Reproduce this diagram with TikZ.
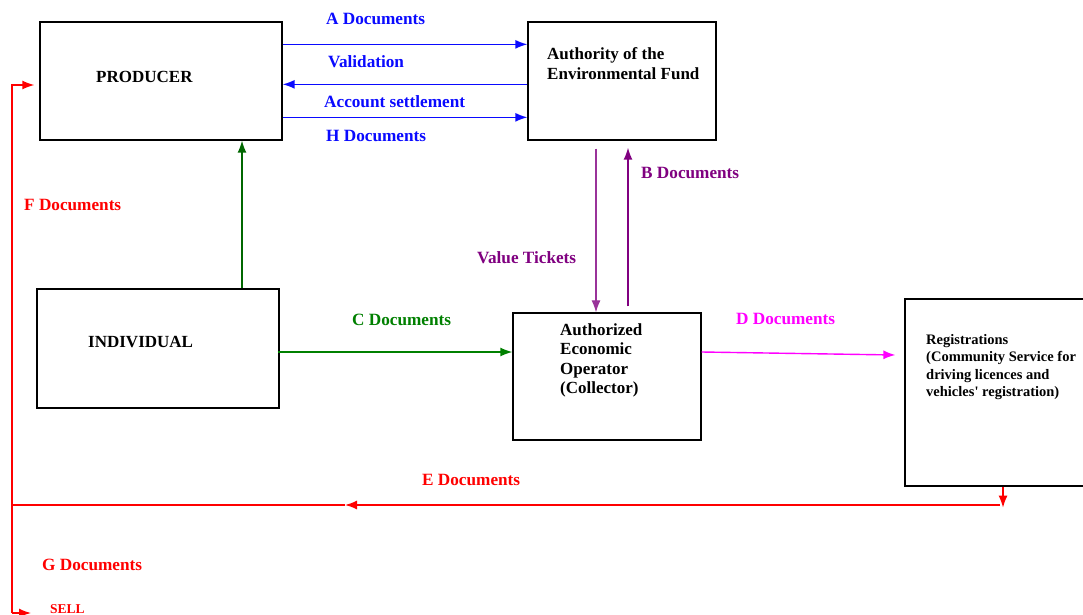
\documentclass[tikz,border=0pt]{standalone}
\usepackage{fontspec}
\setmainfont{Liberation Serif}
\usetikzlibrary{arrows.meta}
\definecolor{cblue}{RGB}{10,10,255}
\definecolor{cgreen}{RGB}{0,128,0}
\definecolor{cpurple}{RGB}{128,0,128}
\definecolor{cmag}{RGB}{255,0,255}
\definecolor{cred}{RGB}{255,0,0}
\begin{document}
\begin{tikzpicture}[x=1pt,y=-1pt,
  box/.style={draw=black,line width=1.3pt,inner sep=0pt},
  lbl/.style={font=\fontsize{17.2}{19}\selectfont\bfseries,inner sep=0pt,anchor=west},
  boxtxt/.style={font=\fontsize{17}{19.5}\selectfont\bfseries,inner sep=0pt,anchor=west,align=left},
  regtxt/.style={font=\fontsize{14.5}{17.5}\selectfont\bfseries,inner sep=0pt,anchor=west,align=left},
  flow/.style={line width=1.4pt},
  tip/.style={-{Latex[length=12pt,width=9pt]}}]
\useasboundingbox (0,0) rectangle (1083,615);
\fill[white] (0,0) rectangle (1083,615);

% boxes
\node[box,minimum width=242pt,minimum height=118pt] (prod) at (161,81) {};
\node[box,minimum width=188pt,minimum height=118pt] (auth) at (622,81) {};
\node[box,minimum width=242pt,minimum height=119pt] (ind) at (158,348.5) {};
\node[box,minimum width=188pt,minimum height=127pt] (coll) at (607,376.5) {};
\node[box,minimum width=185pt,minimum height=187pt] (reg) at (997.5,392.5) {};

% box texts
\node[boxtxt] (prodt) at (96,77) {PRODUCER};
\node[boxtxt] (autht) at (547,63.5) {Authority of the\\Environmental Fund};
\node[boxtxt] (indt) at (88,342) {INDIVIDUAL};
\node[boxtxt] (collt) at (560,360.5) {Authorized\\Economic\\Operator\\(Collector)};
\node[regtxt] (regt) at (926,367) {Registrations\\(Community Service for\\driving licences and\\vehicles\textquotesingle{} registration)};

% blue arrows
\draw[flow,cblue,tip] ([yshift=-23pt]prod.north east) -- ([yshift=-23pt]auth.north west);
\draw[flow,cblue,tip] ([yshift=-63pt]auth.north west) -- ([yshift=-63pt]prod.north east);
\draw[flow,cblue,tip] ([yshift=-96pt]prod.north east) -- ([yshift=-96pt]auth.north west);
\node[lbl,text=cblue] (la) at (326,19) {A Documents};
\node[lbl,text=cblue] (lv) at (328,62) {Validation};
\node[lbl,text=cblue] (ls) at (324,102) {Account settlement};
\node[lbl,text=cblue] (lh) at (326,136) {H Documents};

% purple arrows
\draw[line width=1.1pt,cpurple!80,tip] ([xshift=-26pt,yshift=-8pt]auth.south) -- ([xshift=-11pt]coll.north);
\draw[flow,cpurple,tip] ([xshift=21pt,yshift=6pt]coll.north) -- ([xshift=6pt,yshift=-7pt]auth.south);
\node[lbl,text=cpurple] (lvt) at (477,258) {Value Tickets};
\node[lbl,text=cpurple] (lb) at (641,173) {B Documents};

% green arrows
\draw[flow,cgreen!80!black,tip] ([xshift=84pt]ind.north) -- ([xshift=81pt]prod.south);
\draw[flow,cgreen,tip] ([yshift=-3.5pt,xshift=-2pt]ind.east) -- ([yshift=24.5pt]coll.west);
\node[lbl,text=cgreen] (lc) at (352,320) {C Documents};

% magenta arrow
\draw[flow,cmag,tip] ([yshift=24.5pt]coll.east) -- ([xshift=-9pt,yshift=37.5pt]reg.west);
\node[lbl,text=cmag] (ld) at (736,319) {D Documents};

% red lines
\coordinate (eR) at (1000,505);
\coordinate (eM) at (345,505);
\coordinate (eL) at (12,505);
\coordinate (ftop) at (12,85);
\coordinate (fbot) at (12,613);
\coordinate (sell) at (31,613);
\draw[flow,cred,tip] ([xshift=5.5pt]reg.south) -- ([xshift=5.5pt,yshift=-21pt]reg.south);
\draw[flow,cred,tip] (eR) -- (eM);
\draw[flow,cred] (eM) -- (eL);
\draw[flow,cred,tip] (fbot) -- (ftop) -- ([xshift=-5pt,yshift=-4pt]prod.west);
\draw[flow,cred,tip] (fbot) -- (sell);
\node[lbl,text=cred] (le) at (422,480) {E Documents};
\node[lbl,text=cred] (lf) at (24,205) {F Documents};
\node[lbl,text=cred] (lg) at (42,565) {G Documents};
\node[lbl,text=cred,font=\fontsize{13.5}{15}\selectfont\bfseries] (lsell) at (50,609) {SELL};
\end{tikzpicture}
\end{document}
